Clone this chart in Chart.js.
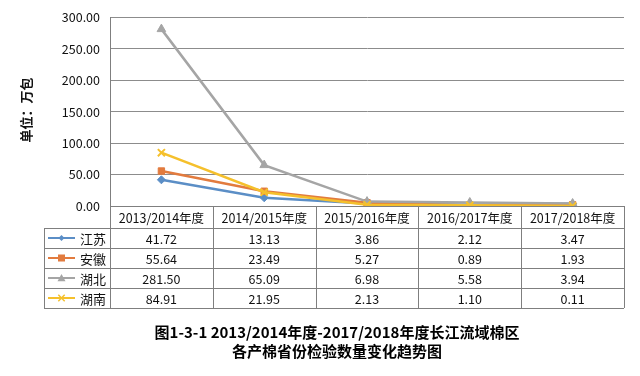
<!DOCTYPE html>
<html><head><meta charset="utf-8">
<script src="https://cdn.jsdelivr.net/npm/chart.js@4"></script>
<style>html,body{margin:0;padding:0;background:#fff}#wrap{width:640px;height:376px;position:relative}</style>
</head><body><div id="wrap"><canvas id="c" width="640" height="376"></canvas></div>
<script>
const categories = ['2013/2014年度','2014/2015年度','2015/2016年度','2016/2017年度','2017/2018年度'];
const provinces = ['江苏','安徽','湖北','湖南'];
const jiangsu = [41.72, 13.13, 3.86, 2.12, 3.47];
const anhui = [55.64, 23.49, 5.27, 0.89, 1.93];
const hubei = [281.50, 65.09, 6.98, 5.58, 3.94];
const hunan = [84.91, 21.95, 2.13, 1.10, 0.11];
const yTicks = [0, 50, 100, 150, 200, 250, 300];
const yLabel = '单位：万包';
const titleLines = ['图1-3-1 2013/2014年度-2017/2018年度长江流域棉区','各产棉省份检验数量变化趋势图'];

const seriesValues = [jiangsu, anhui, hubei, hunan];
const colors = ['#5B8EC6','#E27B3E','#A5A5A5','#F5C02C'];
const markers = ['rectRot','rect','triangle','crossRot'];
const markerSizes = [4, 4.5, 5, 5];
const FONT = '"Noto Sans CJK SC", "Noto Sans", sans-serif';

function drawMarker(ctx, type, x, y, r, color){
  ctx.save();
  ctx.fillStyle = color; ctx.strokeStyle = color; ctx.lineWidth = 1.5;
  ctx.beginPath();
  if(type==='rectRot'){ctx.moveTo(x,y-r);ctx.lineTo(x+r,y);ctx.lineTo(x,y+r);ctx.lineTo(x-r,y);ctx.closePath();ctx.fill();}
  else if(type==='rect'){ctx.fillRect(x-r,y-r,2*r,2*r);}
  else if(type==='triangle'){ctx.moveTo(x,y-r);ctx.lineTo(x+r,y+r*0.8);ctx.lineTo(x-r,y+r*0.8);ctx.closePath();ctx.fill();}
  else {ctx.moveTo(x-r*0.8,y-r*0.8);ctx.lineTo(x+r*0.8,y+r*0.8);ctx.moveTo(x+r*0.8,y-r*0.8);ctx.lineTo(x-r*0.8,y+r*0.8);ctx.stroke();}
  ctx.restore();
}

const tablePlugin = {
  id: 'tablePlugin',
  afterDraw(chart){
    const ctx = chart.ctx;
    const area = chart.chartArea;
    const xs = chart.scales.x;
    const n = categories.length;
    const colW = (area.right - area.left)/n;
    const top = area.bottom;
    const headerBottom = top + 22;
    const rowH = 20;
    const tableLeft = 44;
    const bottom = headerBottom + rowH*provinces.length;
    ctx.save();
    ctx.strokeStyle = '#7f7f7f'; ctx.lineWidth = 1;
    ctx.beginPath();
    ctx.moveTo(area.left, top+0.5); ctx.lineTo(area.right, top+0.5);
    for(let r=0;r<=provinces.length;r++){
      const y = Math.round(headerBottom + r*rowH)+0.5;
      ctx.moveTo(tableLeft, y); ctx.lineTo(area.right, y);
    }
    for(let i=0;i<=n;i++){
      const x = Math.round(area.left + i*colW)+0.5;
      ctx.moveTo(x, top); ctx.lineTo(x, bottom);
    }
    ctx.moveTo(tableLeft+0.5, headerBottom); ctx.lineTo(tableLeft+0.5, bottom);
    ctx.stroke();
    ctx.fillStyle = '#111'; ctx.textAlign = 'center'; ctx.textBaseline = 'middle';
    ctx.font = '12.5px ' + FONT;
    for(let i=0;i<n;i++){
      ctx.fillText(categories[i], xs.getPixelForValue(i), (top+headerBottom)/2+1);
    }
    for(let r=0;r<provinces.length;r++){
      const yc = headerBottom + r*rowH + rowH/2 + 1;
      for(let i=0;i<n;i++){
        ctx.fillText(seriesValues[r][i].toFixed(2), xs.getPixelForValue(i), yc);
      }
      ctx.save();
      ctx.strokeStyle = colors[r]; ctx.lineWidth = 2;
      ctx.beginPath(); ctx.moveTo(48, yc-1); ctx.lineTo(75, yc-1); ctx.stroke();
      ctx.restore();
      drawMarker(ctx, markers[r], 61.5, yc-1, markerSizes[r]-1, colors[r]);
      ctx.textAlign = 'left';
      ctx.font = '13px ' + FONT;
      ctx.fillText(provinces[r], 80, yc);
      ctx.textAlign = 'center';
      ctx.font = '12.5px ' + FONT;
    }
    ctx.save();
    ctx.translate(26, 110); ctx.rotate(-Math.PI/2);
    ctx.font = 'bold 13px ' + FONT; ctx.textAlign='center'; ctx.textBaseline='middle';
    ctx.fillText(yLabel, 0, 0);
    ctx.restore();
    ctx.font = 'bold 15px ' + FONT;
    ctx.fillStyle = '#000';
    ctx.fillText(titleLines[0], 337, 332);
    ctx.fillText(titleLines[1], 337, 351);
    ctx.restore();
  }
};

new Chart(document.getElementById('c'), {
  type: 'line',
  data: {
    labels: categories,
    datasets: provinces.map((p, i) => ({
      label: p,
      data: seriesValues[i],
      borderColor: colors[i],
      backgroundColor: colors[i],
      borderWidth: 2.5,
      pointStyle: markers[i],
      pointRadius: markerSizes[i],
      pointBorderWidth: i===3 ? 2 : 1,
      pointBorderColor: colors[i],
      pointBackgroundColor: colors[i],
      tension: 0,
      order: 4 - i
    }))
  },
  options: {
    responsive: false,
    animation: false,
    layout: { padding: { left: 0, right: 16, top: 17, bottom: 170 } },
    plugins: { legend: { display: false }, tooltip: { enabled: false }, title: { display: false } },
    scales: {
      x: { type: 'category', offset: true, display: false, grid: { display: false } },
      y: {
        min: 0, max: 300,
        afterFit(scale){ scale.width = 110; },
        afterBuildTicks(scale){ scale.ticks = yTicks.map(v => ({value: v})); },
        border: { display: true, color: '#7f7f7f', width: 1 },
        grid: { color: '#8c8c8c', lineWidth: 1, drawTicks: false },
        ticks: {
          padding: 10,
          color: '#111',
          font: { family: FONT, size: 12.5 },
          callback: v => Number(v).toFixed(2)
        }
      }
    }
  },
  plugins: [tablePlugin]
});
</script></body></html>
